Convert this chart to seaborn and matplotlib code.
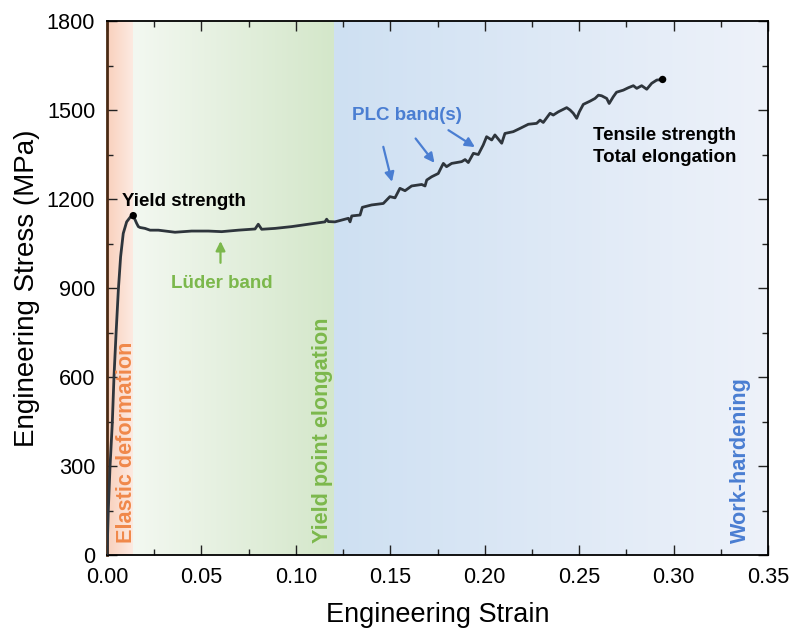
import numpy as np
import matplotlib
matplotlib.use("Agg")
import matplotlib.pyplot as plt
from matplotlib.colors import LinearSegmentedColormap
from matplotlib.ticker import MultipleLocator, FormatStrFormatter
import pandas as pd
import seaborn as sns

# Engineering stress-strain record of the tensile test
strain = [0.0, 0.0007, 0.0016, 0.0028, 0.0037, 0.0048, 0.0060, 0.0072, 0.0086,
          0.0104, 0.0122, 0.0139,
          0.0157, 0.0166, 0.0175, 0.0201, 0.0228, 0.0272, 0.0360, 0.0448, 0.0537,
          0.0607, 0.0695, 0.0784, 0.0801, 0.0819, 0.0890, 0.0978, 0.1066, 0.1154,
          0.1163, 0.1172, 0.1207,
          0.1278, 0.1287, 0.1296, 0.1340, 0.1352, 0.1401, 0.1463, 0.1498, 0.1525,
          0.1551, 0.1578, 0.1613, 0.1666, 0.1684, 0.1693, 0.1719, 0.1754, 0.1772,
          0.1781, 0.1798, 0.1825, 0.1878, 0.1896, 0.1913, 0.1940, 0.1966, 0.1992,
          0.2010, 0.2037, 0.2054, 0.2090, 0.2107, 0.2151, 0.2187, 0.2231, 0.2275,
          0.2293, 0.2310, 0.2346, 0.2363, 0.2390, 0.2434, 0.2452, 0.2469, 0.2487,
          0.2501, 0.2522, 0.2558, 0.2584, 0.2602, 0.2619, 0.2646, 0.2659, 0.2681,
          0.2698, 0.2734, 0.2760, 0.2787, 0.2805, 0.2831, 0.2858, 0.2884, 0.2911,
          0.2942]
stress = [0, 152, 298, 444, 601, 747, 893, 1005, 1084,
          1123, 1138, 1144,
          1118, 1107, 1104, 1101, 1095, 1095, 1088, 1092, 1092,
          1090, 1095, 1099, 1115, 1098, 1101, 1107, 1115, 1123,
          1132, 1124, 1123,
          1135, 1123, 1143, 1146, 1172, 1180, 1185, 1208, 1204,
          1236, 1228, 1244, 1249, 1244, 1264, 1275, 1286, 1309,
          1320, 1309, 1320, 1326, 1333, 1323, 1354, 1350, 1382,
          1410, 1399, 1416, 1388, 1421, 1427, 1438, 1452, 1455,
          1466, 1458, 1489, 1483, 1494, 1508, 1500, 1489, 1472,
          1494, 1519, 1530, 1539, 1550, 1548, 1539, 1522, 1545,
          1560, 1567, 1575, 1582, 1573, 1582, 1570, 1590, 1601,
          1603]

# Deformation stages (strain limits) and their shading
stage_edges = [0.0, 0.014, 0.12, 0.35]
stage_shades = [("#f9d0bc", "#fdebe3"), ("#f3f8f1", "#d4e7ca"), ("#cee0f2", "#eef2fa")]
stage_names = ["Elastic deformation", "Yield point elongation", "Work-hardening"]
stage_label_x = [0.0105, 0.1139, 0.3352]
stage_text_colors = ["#f0884a", "#7cb84c", "#4a7ed2"]

yield_point = (0.0139, 1144)
fracture_point = (0.2942, 1603)

x_ticks = [0.00, 0.05, 0.10, 0.15, 0.20, 0.25, 0.30, 0.35]
y_ticks = [0, 300, 600, 900, 1200, 1500, 1800]

sns.set_theme(style="ticks")
plt.rcParams['font.family'] = ['Liberation Sans', 'DejaVu Sans']
plt.rcParams['text.color'] = 'black'
plt.rcParams['axes.labelcolor'] = 'black'
plt.rcParams['xtick.labelcolor'] = 'black'
plt.rcParams['ytick.labelcolor'] = 'black'

fig = plt.figure(figsize=(7.92, 6.31), dpi=100)
ax = fig.add_axes([0.1351, 0.1204, 0.8346, 0.8463])

# shaded stage backgrounds with a horizontal gradient
grad = np.linspace(0, 1, 256)[None, :]
for x0, x1, (c0, c1) in zip(stage_edges[:-1], stage_edges[1:], stage_shades):
    cmap = LinearSegmentedColormap.from_list("stage", [c0, c1])
    ax.imshow(grad, extent=[x0, x1, y_ticks[0], y_ticks[-1]], aspect="auto",
              cmap=cmap, zorder=0, interpolation="bilinear")

df = pd.DataFrame({"strain": strain, "stress": stress})
sns.lineplot(data=df, x="strain", y="stress", sort=False, estimator=None,
             color="#2e353c", lw=2.0, ax=ax, zorder=3)

marks = pd.DataFrame({"strain": [yield_point[0], fracture_point[0]],
                      "stress": [yield_point[1], fracture_point[1]]})
sns.scatterplot(data=marks, x="strain", y="stress", color="black", s=28,
                edgecolor="none", ax=ax, zorder=4)

ax.set_xlim(x_ticks[0], x_ticks[-1])
ax.set_ylim(y_ticks[0], y_ticks[-1])
ax.xaxis.set_major_locator(MultipleLocator(0.05))
ax.xaxis.set_minor_locator(MultipleLocator(0.025))
ax.yaxis.set_major_locator(MultipleLocator(300))
ax.yaxis.set_minor_locator(MultipleLocator(150))
ax.xaxis.set_major_formatter(FormatStrFormatter("%.2f"))
ax.tick_params(which="both", direction="in", top=True, right=True,
               width=1.0, color="#222222")
ax.tick_params(which="major", length=7, labelsize=15.6, pad=8.5)
ax.tick_params(which="minor", length=4)

for side in ["top", "right", "bottom"]:
    ax.spines[side].set_color("black")
    ax.spines[side].set_linewidth(1.3)
ax.spines["left"].set_color("#4a2a14")
ax.spines["left"].set_linewidth(2.0)

ax.set_xlabel("Engineering Strain", fontsize=19.5, labelpad=10)
ax.set_ylabel("Engineering Stress (MPa)", fontsize=20, labelpad=5)

# stage names, written vertically
for name, xs, col in zip(stage_names, stage_label_x, stage_text_colors):
    ax.text(xs, 40, name, rotation=90, ha="center", va="bottom",
            fontsize=15.6, fontweight="bold", color=col, zorder=5)

arrow_style = dict(arrowstyle="-|>", lw=1.6, mutation_scale=14,
                   shrinkA=0, shrinkB=0)

# annotations
ax.text(0.0081, 1176, "Yield strength", fontsize=13.5, fontweight="bold",
        color="black", ha="left", va="baseline", zorder=5)
ax.text(0.0607, 899, "Lüder band", fontsize=13.5, fontweight="bold",
        color="#7cb84c", ha="center", va="baseline", zorder=5)
ax.annotate("", xy=(0.0601, 1058), xytext=(0.0601, 985),
            arrowprops=dict(color="#7cb84c", **arrow_style), zorder=5)
ax.text(0.1589, 1466, "PLC band(s)", fontsize=13.5, fontweight="bold",
        color="#4a7ed2", ha="center", va="baseline", zorder=5)
plc_arrows = [((0.1463, 1376), (0.1509, 1258)),
              ((0.1634, 1404), (0.1734, 1322)),
              ((0.1808, 1432), (0.1948, 1375))]
for start, end in plc_arrows:
    ax.annotate("", xy=end, xytext=start,
                arrowprops=dict(color="#4a7ed2", **arrow_style), zorder=5)
ax.text(0.2575, 1398, "Tensile strength", fontsize=13.5, fontweight="bold",
        color="black", ha="left", va="baseline", zorder=5)
ax.text(0.2575, 1326, "Total elongation", fontsize=13.5, fontweight="bold",
        color="black", ha="left", va="baseline", zorder=5)

fig.savefig("out.png", dpi=100)
